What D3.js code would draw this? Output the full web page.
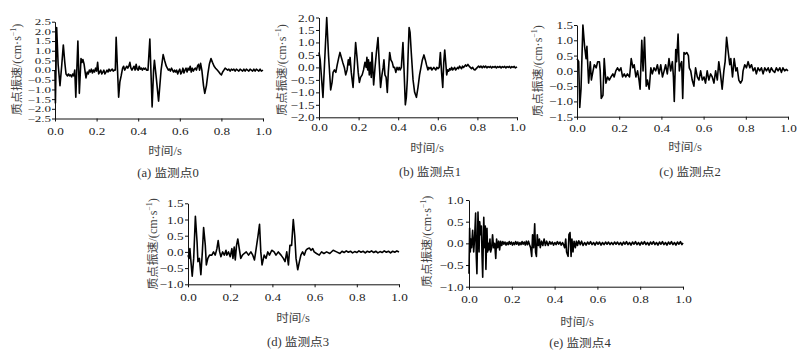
<!DOCTYPE html>
<html><head><meta charset="utf-8">
<script src="https://cdn.jsdelivr.net/npm/d3@7"></script>
<style>
html,body{margin:0;padding:0;background:#fff;}
svg text{font-family:"Liberation Serif","Noto Sans CJK SC",serif;}
</style></head>
<body><svg id="c" width="810" height="356"></svg>
<script>
// ---------------- data ----------------
const xTicks = [0, 0.2, 0.4, 0.6, 0.8, 1.0];
const yTicksA = [-2.5,-2.0,-1.5,-1.0,-0.5,0.0,0.5,1.0,1.5,2.0,2.5];
const yTicksB = [-2.0,-1.5,-1.0,-0.5,0.0,0.5,1.0,1.5,2.0];
const yTicksC = [-1.5,-1.0,-0.5,0.0,0.5,1.0,1.5];
const yTicksD = [-1.0,-0.5,0.0,0.5,1.0,1.5];
const yTicksE = [-1.0,-0.5,0.0,0.5,1.0];
const captions = ["(a) 监测点0","(b) 监测点1","(c) 监测点2","(d) 监测点3","(e) 监测点4"];
const xTitle = "时间/s";
const yTitleMain = "质点振速/(cm·s";
const yTitleSup = "−1";

const seriesA = [[0,0],[0.002,-1.7],[0.008,2.2],[0.015,0.3],[0.024,-0.8],[0.032,0.2],[0.040,1.3],[0.047,0.4],[0.053,-0.2],[0.06,-0.3],[0.065,-0.2],[0.07,-0.3],[0.075,-0.25],[0.08,-0.35],[0.085,-0.2],[0.09,-0.3],[0.095,0.0],[0.100,-1.4],[0.110,1.5],[0.117,-1.2],[0.125,0.6],[0.130,0.4],[0.134,0.55],[0.14,0.3],[0.145,-0.1],[0.149,-0.4],[0.155,-0.1],[0.16,-0.2],[0.165,0.0],[0.17,-0.1],[0.175,0.05],[0.18,-0.15],[0.185,0.0],[0.19,-0.1],[0.195,0.1],[0.2,-0.05],[0.205,0.4],[0.21,-0.2],[0.215,-0.1],[0.22,0.0],[0.225,-0.2],[0.23,-0.1],[0.235,0.0],[0.24,-0.2],[0.245,-0.1],[0.25,0.0],[0.255,-0.1],[0.26,0.05],[0.265,-0.05],[0.27,0.0],[0.275,0.05],[0.28,-0.05],[0.285,0.0],[0.29,0.0],[0.294,1.7],[0.306,-1.4],[0.312,-0.6],[0.318,-0.3],[0.325,0.1],[0.33,0.2],[0.335,0.0],[0.34,0.1],[0.345,0.2],[0.35,0.1],[0.355,0.2],[0.36,0.4],[0.365,0.1],[0.37,0.0],[0.375,0.1],[0.38,0.2],[0.385,0.0],[0.39,0.3],[0.395,0.05],[0.40,0.0],[0.405,0.2],[0.41,0.05],[0.415,0.1],[0.42,0.0],[0.425,0.1],[0.43,0.05],[0.435,0.1],[0.44,0.0],[0.447,0.0],[0.456,1.6],[0.467,-1.9],[0.474,0.0],[0.478,0.5],[0.486,-0.3],[0.498,-1.6],[0.51,0.0],[0.52,0.8],[0.527,0.5],[0.535,0.2],[0.54,0.1],[0.545,0.0],[0.55,0.05],[0.555,-0.05],[0.56,0.1],[0.565,0.0],[0.57,-0.1],[0.575,0.0],[0.58,-0.1],[0.585,0.0],[0.59,-0.2],[0.595,-0.05],[0.60,0.05],[0.605,-0.2],[0.61,-0.1],[0.615,0.1],[0.62,-0.15],[0.625,0.0],[0.63,0.1],[0.635,-0.1],[0.64,0.1],[0.645,0.0],[0.65,0.2],[0.655,-0.1],[0.66,0.1],[0.665,-0.05],[0.67,0.05],[0.675,0.1],[0.68,0.0],[0.685,0.2],[0.69,0.3],[0.695,0.0],[0.70,0.35],[0.706,0.0],[0.714,-0.8],[0.72,-1.2],[0.728,-0.8],[0.735,-0.2],[0.742,0.3],[0.75,0.6],[0.757,0.4],[0.765,0.2],[0.772,0.1],[0.78,0.0],[0.788,-0.1],[0.795,-0.2],[0.8,-0.25],[0.806,-0.1],[0.812,0.0],[0.818,0.1],[0.824,0.05],[0.83,0.0],[0.836,0.05],[0.842,-0.05],[0.848,0.05],[0.854,0.0],[0.86,0.05],[0.866,-0.05],[0.872,0.05],[0.878,0.0],[0.884,-0.05],[0.89,0.05],[0.896,0.0],[0.902,-0.05],[0.908,0.05],[0.914,-0.05],[0.92,0.05],[0.926,0.0],[0.932,-0.05],[0.938,0.05],[0.944,0.0],[0.95,-0.05],[0.956,0.05],[0.962,-0.05],[0.968,0.05],[0.974,0.0],[0.98,-0.05],[0.986,0.05],[0.992,-0.05],[1.0,0.0]];

const seriesB = [[0,0.6],[0.006,0.3],[0.02,-1.2],[0.03,0.5],[0.039,2.0],[0.048,0.5],[0.059,-0.9],[0.066,-0.6],[0.071,-0.2],[0.078,-0.1],[0.085,-0.2],[0.092,0.1],[0.1,0.4],[0.106,0.6],[0.113,0.4],[0.12,0.2],[0.128,0.0],[0.135,-0.3],[0.142,-0.1],[0.148,0.3],[0.152,0.1],[0.157,0.4],[0.163,-0.2],[0.172,-0.8],[0.178,0.0],[0.185,1.0],[0.192,0.4],[0.198,-0.2],[0.204,-0.6],[0.21,-0.4],[0.218,-0.3],[0.225,-0.1],[0.232,0.2],[0.238,0.0],[0.242,0.4],[0.246,-0.1],[0.25,0.3],[0.254,-0.3],[0.259,0.2],[0.264,-0.4],[0.268,0.6],[0.276,-0.7],[0.283,0.0],[0.29,0.6],[0.298,1.2],[0.304,0.2],[0.311,-0.8],[0.318,-0.3],[0.324,0.0],[0.328,0.3],[0.333,-0.3],[0.339,-0.4],[0.345,-1.0],[0.35,-0.2],[0.357,0.6],[0.363,0.3],[0.37,0.2],[0.376,0.0],[0.382,0.0],[0.388,-0.2],[0.394,0.0],[0.4,-0.1],[0.405,0.0],[0.41,-0.1],[0.416,0.0],[0.424,1.0],[0.43,-0.2],[0.436,-1.5],[0.441,-1.2],[0.446,-0.5],[0.45,0.5],[0.455,1.6],[0.46,1.4],[0.466,0.6],[0.475,-0.5],[0.483,-1.0],[0.492,-1.2],[0.5,-0.8],[0.508,-0.3],[0.515,0.0],[0.522,0.3],[0.53,0.5],[0.537,0.3],[0.543,0.1],[0.55,-0.1],[0.555,0.0],[0.56,-0.05],[0.565,0.0],[0.57,-0.1],[0.575,-0.05],[0.58,0.0],[0.585,-0.05],[0.59,-0.1],[0.595,0.0],[0.601,-0.05],[0.607,0.0],[0.613,0.6],[0.619,-0.2],[0.625,-0.8],[0.63,0.2],[0.635,0.7],[0.64,0.2],[0.645,-0.3],[0.65,-0.1],[0.655,-0.15],[0.66,-0.05],[0.665,-0.1],[0.67,0.0],[0.675,-0.1],[0.68,-0.05],[0.685,0.0],[0.69,-0.1],[0.695,-0.05],[0.70,0.0],[0.705,-0.05],[0.71,0.05],[0.715,0.0],[0.72,-0.05],[0.725,0.05],[0.73,0.0],[0.735,0.05],[0.74,0.1],[0.745,0.05],[0.752,0.12],[0.758,0.05],[0.764,0.0],[0.77,-0.05],[0.776,0.0],[0.782,-0.08],[0.788,-0.1],[0.794,-0.05],[0.8,0.0],[0.806,0.05],[0.812,0.0],[0.818,0.05],[0.824,-0.02],[0.83,0.05],[0.836,0.0],[0.842,0.05],[0.848,-0.02],[0.854,0.03],[0.86,0.0],[0.866,0.04],[0.872,-0.02],[0.878,0.03],[0.884,0.0],[0.89,0.04],[0.896,-0.02],[0.902,0.03],[0.908,0.0],[0.914,0.04],[0.92,-0.02],[0.926,0.03],[0.932,0.0],[0.938,0.04],[0.944,-0.02],[0.95,0.03],[0.956,0.0],[0.962,0.04],[0.968,-0.02],[0.974,0.03],[0.98,0.0],[0.986,0.04],[0.992,-0.02],[1.0,0.02]];

const seriesC = [[0,0.4],[0.008,0.3],[0.013,-1.2],[0.019,-0.6],[0.028,1.5],[0.036,0.8],[0.043,0.4],[0.047,0.8],[0.055,-0.4],[0.063,0.3],[0.068,-0.3],[0.076,0.0],[0.082,0.2],[0.091,0.1],[0.098,0.3],[0.106,0.3],[0.110,0.0],[0.115,-0.9],[0.123,-0.8],[0.129,0.4],[0.137,-0.4],[0.145,-0.2],[0.153,-0.3],[0.161,-0.2],[0.170,-0.1],[0.176,-0.2],[0.184,0.0],[0.192,0.1],[0.200,0.0],[0.208,0.1],[0.216,-0.2],[0.224,-0.1],[0.231,-0.2],[0.239,-0.1],[0.249,-0.2],[0.257,0.4],[0.265,0.1],[0.271,0.2],[0.279,-0.2],[0.287,0.0],[0.294,-0.3],[0.299,-0.6],[0.307,1.0],[0.313,0.0],[0.320,1.1],[0.328,-0.5],[0.334,-0.3],[0.342,-0.6],[0.350,0.1],[0.357,-0.1],[0.365,0.1],[0.373,0.0],[0.381,0.2],[0.389,-0.1],[0.397,0.2],[0.405,-0.2],[0.413,0.0],[0.420,0.2],[0.428,-0.1],[0.436,0.4],[0.444,0.0],[0.452,0.3],[0.457,-0.2],[0.461,-1.0],[0.468,0.7],[0.472,0.3],[0.479,1.2],[0.485,0.0],[0.490,0.2],[0.496,0.3],[0.501,-0.9],[0.507,0.6],[0.513,0.55],[0.520,0.6],[0.528,0.5],[0.532,0.1],[0.539,0.0],[0.546,-0.3],[0.554,-0.5],[0.562,0.1],[0.570,-0.2],[0.578,-0.3],[0.586,0.0],[0.594,-0.3],[0.602,-0.2],[0.609,-0.4],[0.617,0.0],[0.625,-0.3],[0.633,-0.1],[0.641,-0.2],[0.649,-0.4],[0.657,0.0],[0.665,-0.3],[0.672,0.3],[0.680,-0.1],[0.688,-0.6],[0.696,0.0],[0.702,0.3],[0.709,1.1],[0.717,0.6],[0.724,0.2],[0.729,0.4],[0.737,-0.2],[0.745,0.4],[0.753,0.0],[0.759,0.1],[0.767,-0.3],[0.775,-0.4],[0.783,-0.3],[0.787,0.0],[0.795,0.2],[0.803,0.1],[0.811,0.3],[0.819,0.1],[0.827,0.2],[0.835,0.0],[0.843,0.1],[0.850,-0.1],[0.858,0.1],[0.866,0.0],[0.874,0.1],[0.882,-0.1],[0.890,0.1],[0.898,0.0],[0.906,0.1],[0.913,-0.05],[0.921,0.1],[0.929,0.0],[0.937,-0.05],[0.945,0.1],[0.953,0.0],[0.961,0.1],[0.969,-0.05],[0.976,0.1],[0.984,0.0],[0.992,0.05],[1.0,0.0]];

const seriesD = [[0,-0.1],[0.005,-0.2],[0.009,0.1],[0.014,-0.3],[0.020,-0.75],[0.027,-0.2],[0.035,1.1],[0.043,0.3],[0.047,-0.3],[0.054,-0.2],[0.061,-0.7],[0.068,0.0],[0.074,0.75],[0.082,0.2],[0.087,-0.4],[0.094,-0.2],[0.102,-0.1],[0.113,-0.1],[0.121,0.0],[0.129,-0.1],[0.137,0.1],[0.143,0.35],[0.150,0.0],[0.156,-0.15],[0.164,0.0],[0.172,-0.1],[0.180,0.05],[0.184,-0.1],[0.192,0.0],[0.200,-0.15],[0.208,0.1],[0.213,-0.2],[0.219,0.15],[0.224,-0.25],[0.230,0.2],[0.236,0.4],[0.243,0.1],[0.250,-0.2],[0.258,-0.1],[0.266,-0.05],[0.276,0.0],[0.287,-0.1],[0.298,0.0],[0.307,-0.1],[0.315,-0.25],[0.323,0.1],[0.332,0.5],[0.339,0.85],[0.345,0.0],[0.351,-0.4],[0.361,-0.1],[0.370,-0.2],[0.378,0.0],[0.386,-0.1],[0.397,0.05],[0.408,0.0],[0.417,-0.1],[0.428,0.0],[0.441,-0.1],[0.452,-0.2],[0.460,-0.3],[0.468,0.0],[0.476,-0.4],[0.483,0.2],[0.491,0.2],[0.499,1.0],[0.506,0.5],[0.512,-0.2],[0.520,-0.55],[0.528,-0.3],[0.535,-0.1],[0.543,0.0],[0.551,-0.1],[0.559,0.05],[0.567,0.1],[0.575,0.12],[0.583,0.05],[0.591,0.1],[0.598,0.0],[0.609,-0.05],[0.622,-0.1],[0.633,0.0],[0.644,-0.05],[0.657,0.0],[0.672,-0.05],[0.688,0.05],[0.704,0.0],[0.72,-0.05],[0.73,0.02],[0.74,-0.02],[0.75,0.03],[0.76,-0.01],[0.77,0.02],[0.78,-0.03],[0.79,0.01],[0.80,-0.02],[0.81,0.03],[0.82,-0.01],[0.83,0.02],[0.84,-0.03],[0.85,0.02],[0.86,-0.01],[0.87,0.03],[0.88,-0.02],[0.89,0.02],[0.90,-0.03],[0.91,0.01],[0.92,-0.02],[0.93,0.03],[0.94,-0.01],[0.95,0.02],[0.96,-0.03],[0.97,0.02],[0.98,-0.01],[0.99,0.03],[1.0,0.0]];

const seriesE = [[0,-0.7],[0.003,0.35],[0.006,-0.2],[0.009,0.1],[0.012,-0.1],[0.017,0.3],[0.022,-0.2],[0.026,0.1],[0.031,0.7],[0.034,-0.3],[0.037,-0.7],[0.042,0.72],[0.047,-0.2],[0.050,0.5],[0.055,0.2],[0.058,0.4],[0.061,-0.3],[0.064,-0.78],[0.069,0.6],[0.073,-0.1],[0.076,0.4],[0.079,-0.6],[0.084,0.35],[0.087,-0.2],[0.090,0.0],[0.093,-0.15],[0.098,0.1],[0.101,-0.2],[0.106,-0.1],[0.110,0.2],[0.115,-0.1],[0.120,0.0],[0.125,-0.35],[0.129,0.1],[0.134,-0.1],[0.139,0.05],[0.143,-0.15],[0.148,0.05],[0.153,-0.05],[0.158,0.04],[0.163,-0.02],[0.168,0.03],[0.173,-0.04],[0.178,0.02],[0.183,-0.03],[0.188,0.04],[0.193,-0.02],[0.198,0.03],[0.203,-0.04],[0.208,0.02],[0.213,-0.03],[0.218,0.04],[0.223,-0.02],[0.228,0.03],[0.233,-0.04],[0.238,0.02],[0.243,-0.03],[0.248,0.04],[0.253,-0.02],[0.258,0.03],[0.263,-0.04],[0.268,0.05],[0.273,-0.03],[0.278,0.05],[0.283,-0.03],[0.288,-0.1],[0.293,-0.3],[0.297,0.2],[0.302,-0.1],[0.307,0.45],[0.311,-0.2],[0.315,-0.3],[0.319,0.2],[0.324,-0.05],[0.329,0.1],[0.333,-0.1],[0.339,0.05],[0.345,-0.05],[0.351,0.1],[0.357,-0.05],[0.363,0.05],[0.370,-0.05],[0.377,0.04],[0.383,-0.02],[0.389,0.03],[0.395,-0.04],[0.401,0.02],[0.407,-0.03],[0.413,0.04],[0.419,-0.02],[0.425,0.03],[0.431,-0.04],[0.437,0.02],[0.442,-0.03],[0.447,-0.1],[0.452,0.1],[0.456,-0.2],[0.463,-0.3],[0.467,0.2],[0.472,0.25],[0.477,-0.3],[0.481,0.1],[0.486,-0.2],[0.491,0.05],[0.497,-0.1],[0.502,0.05],[0.507,-0.05],[0.513,0.06],[0.52,-0.03],[0.526,0.05],[0.533,-0.05],[0.54,0.02],[0.547,-0.04],[0.554,0.03],[0.561,-0.02],[0.568,0.04],[0.575,-0.03],[0.582,0.02],[0.589,-0.04],[0.596,0.03],[0.603,-0.02],[0.61,0.03],[0.617,-0.04],[0.624,0.02],[0.631,-0.03],[0.638,0.03],[0.645,-0.02],[0.652,0.03],[0.659,-0.03],[0.666,0.02],[0.673,-0.03],[0.68,0.03],[0.687,-0.02],[0.694,0.03],[0.701,-0.03],[0.708,0.02],[0.715,-0.04],[0.722,0.03],[0.729,-0.02],[0.736,0.04],[0.743,-0.03],[0.75,0.02],[0.757,-0.04],[0.764,0.03],[0.771,-0.02],[0.778,0.04],[0.785,-0.03],[0.792,0.02],[0.799,-0.04],[0.806,0.03],[0.813,-0.02],[0.82,0.04],[0.827,-0.03],[0.834,0.02],[0.841,-0.04],[0.848,0.03],[0.855,-0.02],[0.862,0.04],[0.869,-0.03],[0.876,0.02],[0.883,-0.04],[0.89,0.03],[0.897,-0.02],[0.904,0.04],[0.911,-0.03],[0.918,0.02],[0.925,-0.04],[0.932,0.03],[0.939,-0.02],[0.946,0.04],[0.953,-0.03],[0.96,0.02],[0.967,-0.04],[0.974,0.03],[0.981,-0.02],[0.988,0.04],[0.995,-0.03],[1.0,0.01]];

// ---------------- layout ----------------
const layout = [
  {data: seriesA, ticks: yTicksA, x0:55, x1:263, yT:21.7, yB:118.5, xPad:6, yPad:1, yFs:9, yScale:1.45, ytX:17, ytY:69.5, xtX:165, xtY:155, capX:168, capY:177},
  {data: seriesB, ticks: yTicksB, x0:319, x1:517, yT:17.5, yB:117.3, xPad:3, yPad:1.5, yFs:11, yScale:1.2, ytX:282, ytY:70, xtX:427, xtY:152, capX:430, capY:176},
  {data: seriesC, ticks: yTicksC, x0:577, x1:788, yT:25, yB:116.7, xPad:4.5, yPad:1, yFs:11, yScale:1.2, ytX:538, ytY:71, xtX:685, xtY:151, capX:690, capY:176},
  {data: seriesD, ticks: yTicksD, x0:188, x1:399, yT:203.3, yB:284.3, xPad:6, yPad:1.5, yFs:11, yScale:1.2, ytX:153, ytY:244, xtX:293, xtY:322, capX:298, capY:346},
  {data: seriesE, ticks: yTicksE, x0:469, x1:683, yT:200, yB:286.7, xPad:5, yPad:2.5, yFs:11, yScale:1.2, ytX:427, ytY:241.5, xtX:577, xtY:326, capX:580, capY:347}
];

const svg = d3.select("#c");
const FS = 11, SX = 1.2;
const fmt = d3.format(".1f");

layout.forEach((p, i) => {
  const ext = d3.extent(p.ticks);
  const x = d3.scaleLinear().domain([0, 1]).range([p.x0, p.x1]);
  const y = d3.scaleLinear().domain(ext).range([p.yB, p.yT]);
  const g = svg.append("g");

  const ax = g.append("g").attr("transform", `translate(0,${p.yB})`)
    .call(d3.axisBottom(x).tickValues(xTicks).tickSize(3).tickSizeOuter(0).tickPadding(p.xPad).tickFormat(fmt));
  ax.selectAll("text").attr("font-size", FS).attr("fill", "#222").attr("transform", `scale(${SX},1)`);

  const ay = g.append("g").attr("transform", `translate(${p.x0},0)`)
    .call(d3.axisLeft(y).tickValues(p.ticks).tickSize(3).tickSizeOuter(0).tickPadding(p.yPad).tickFormat(fmt));
  ay.selectAll("text").attr("font-size", p.yFs).attr("fill", "#222")
    .attr("x", -(3 + p.yPad) / p.yScale).attr("transform", `scale(${p.yScale},1)`);

  [ax, ay].forEach(a => { a.selectAll("path,line").attr("stroke", "#111").attr("stroke-width", 1); });

  g.append("path").datum(p.data)
    .attr("fill", "none").attr("stroke", "#000").attr("stroke-width", 1.6)
    .attr("stroke-linejoin", "round")
    .attr("d", d3.line().x(d => x(d[0])).y(d => y(d[1])));

  // y title
  const yt = g.append("text")
    .attr("transform", `translate(${p.ytX},${p.ytY}) rotate(-90) scale(1.05,1)`)
    .attr("text-anchor", "middle").attr("dominant-baseline", "central")
    .attr("font-size", 11.5).attr("fill", "#444");
  yt.append("tspan").text(yTitleMain);
  yt.append("tspan").attr("font-size", 7.5).attr("dy", -4).text(yTitleSup);
  yt.append("tspan").attr("dy", 4).text(")");

  g.append("text").attr("transform", `translate(${p.xtX},${p.xtY}) scale(1.1,1)`)
    .attr("text-anchor", "middle").attr("font-size", 11.5).attr("fill", "#444").text(xTitle);

  g.append("text").attr("transform", `translate(${p.capX},${p.capY}) scale(1.1,1)`)
    .attr("text-anchor", "middle").attr("font-size", 11.5).attr("fill", "#333").text(captions[i]);
});
</script></body></html>
